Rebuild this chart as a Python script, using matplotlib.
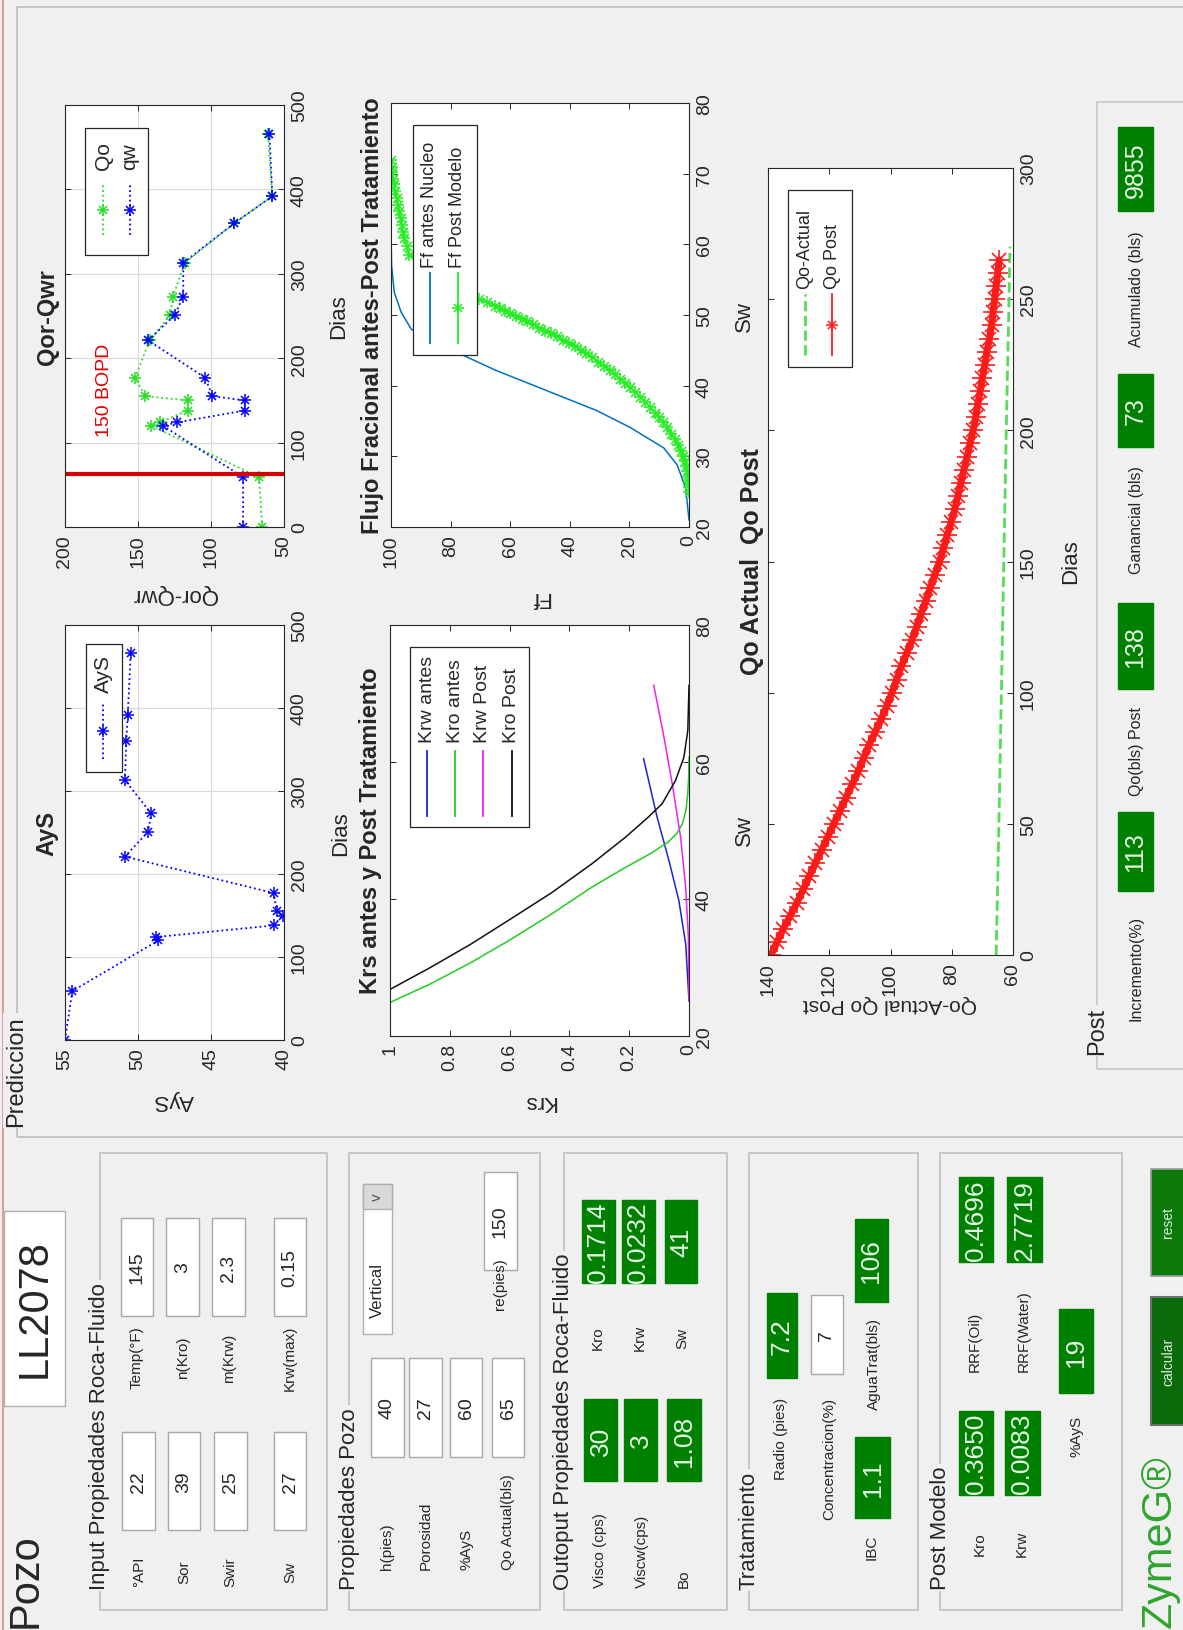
import matplotlib
matplotlib.use('Agg')
import matplotlib.pyplot as plt
from matplotlib.patches import Rectangle
from matplotlib.lines import Line2D

plt.rcParams['font.family'] = ['Liberation Sans', 'DejaVu Sans']

W, H = 1183, 1631

# ---------------- datos ----------------
# fechas de las pruebas (comunes a AyS y Qor-Qwr)
prueba_dias = [0, 59, 120, 124, 138, 150, 155, 177, 221, 251, 273, 313, 360, 392, 466]
ays_val = [55.0, 54.5, 48.6, 48.8, 40.7, 40.1, 40.5, 40.7, 50.9, 49.3, 49.1, 50.9, 50.8, 50.7, 50.5]
qo_val = [65, 67, 141, 135, 116, 116, 145, 152, 142, 128, 126, 118, 84, 58, 61]
qw_val = [78, 78, 133, 123, 77, 77, 99, 104, 143, 125, 119, 119, 84, 58, 60]
bopd_dia = 63

# Krs vs Sw
sw_krw_antes = [25.1, 33.4, 39.8, 45.6, 52.0, 60.5]
krw_antes = [0.0, 0.011, 0.034, 0.067, 0.107, 0.152]
sw_kro_antes = [24.9, 27.6, 30.7, 34.1, 37.8, 41.7, 44.6, 46.6, 48.3, 49.6, 51.0, 53.0, 55.5, 58.0, 60.7]
kro_antes = [1.0, 0.865, 0.73, 0.596, 0.46, 0.326, 0.213, 0.13, 0.07, 0.04, 0.022, 0.01, 0.004, 0.001, 0.0]
sw_krw_post = [25.1, 34.4, 41.7, 49.0, 56.8, 63.7, 71.2]
krw_post = [0.0, 0.002, 0.011, 0.028, 0.056, 0.084, 0.118]
sw_kro_post = [26.8, 30.0, 33.4, 37.1, 40.9, 45.1, 49.0, 52.0, 53.9, 57.3, 60.7, 64.6, 71.2]
kro_post = [1.0, 0.865, 0.73, 0.596, 0.46, 0.326, 0.213, 0.135, 0.09, 0.045, 0.017, 0.004, 0.0]

# Flujo fraccional vs Sw
sw_ff_antes = [21.0, 25.5, 28.8, 31.2, 34.1, 36.5, 38.4, 40.3, 42.2, 44.4, 46.5, 48.0, 50.4, 53.2, 57.0, 61.6]
ff_antes = [0.0, 1.1, 4.0, 8.5, 19.8, 31.1, 42.4, 53.7, 65.0, 76.3, 87.6, 93.2, 96.6, 98.9, 99.8, 100.0]
sw_ff_post = [25.0, 25.7, 26.4, 27.1, 27.9, 28.6, 29.3, 30.0, 30.8, 31.6, 32.4, 33.2, 34.1, 34.8,
              35.5, 36.2, 37.0, 37.7, 38.4, 39.1, 39.8, 40.4, 41.0, 41.6, 42.2, 42.8, 43.4, 44.0,
              44.6, 45.1, 45.6, 46.1, 46.5, 47.0, 47.4, 47.8, 48.2, 48.7, 49.1, 49.5, 49.9, 50.3,
              50.6, 51.0, 51.3, 51.8, 52.3, 58.5, 59.7, 60.9, 61.8, 62.8, 63.7, 64.7, 65.6, 66.6,
              67.5, 68.5, 69.3, 70.2, 71.0, 71.9]
ff_post = [0.0, 0.1, 0.2, 0.4, 0.6, 1.0, 1.5, 2.1, 2.8, 3.7, 4.8, 6.0, 7.3, 8.6,
           10.0, 11.5, 13.0, 14.6, 16.3, 18.0, 19.8, 21.5, 23.2, 24.9, 26.6, 28.5, 30.5, 32.5,
           34.5, 36.4, 38.4, 40.4, 42.4, 44.3, 46.3, 48.3, 50.3, 52.2, 54.2, 56.2, 58.2, 59.9,
           61.6, 63.3, 65.0, 67.8, 70.6, 93.8, 94.7, 95.5, 96.0, 96.4, 96.8, 97.2, 97.7, 98.1,
           98.5, 98.9, 99.2, 99.5, 99.8, 100.0]

# Qo actual / Qo post vs Dias
qo_post_dias = [0, 5, 10, 15, 20, 25, 30, 35, 40, 45, 50, 55, 60, 65, 70, 75, 80, 85, 90, 95,
                100, 105, 110, 115, 120, 125, 130, 135, 140, 145, 150, 155, 160, 165, 170, 175,
                180, 185, 190, 195, 200, 205, 210, 215, 220, 225, 230, 235, 240, 245, 250, 255,
                260, 265]
qo_post = [139, 137, 135, 132.7, 130.5, 128.5, 126.5, 124.5, 122.5, 120.5, 118.5, 116.5, 114.5,
           112.5, 110.5, 108.8, 107, 105, 103, 101.2, 99.5, 98, 96.5, 94.7, 93, 91.5, 90, 88.5,
           87, 85.5, 84, 82.7, 81.5, 80.2, 79, 78, 77, 76, 75, 74, 73, 72.2, 71.5, 70.7, 70,
           69.2, 68.5, 67.7, 67, 66.5, 66, 65.5, 65, 64.5]
qo_act_dias = [0, 50, 100, 150, 200, 250, 270]
qo_act = [65.5, 64.6, 63.8, 63.0, 62.2, 61.3, 61.0]

# ---------------- figura ----------------
fig = plt.figure(figsize=(W / 100, H / 100), dpi=100)
fig.patch.set_facecolor('#f0f0f0')
TXT = '#262626'
VERDE = '#008000'
T_TIT, T_LAB, T_TICK = 17, 16, 14


def fx(x):
    return x / W


def fy(y):
    return 1 - y / H


def caja(x0, y0, x1, y1, fc='none', ec='#b4b4b4', lw=1.0, z=0.5):
    fig.add_artist(Rectangle((fx(x0), fy(y1)), (x1 - x0) / W, (y1 - y0) / H,
                             transform=fig.transFigure, facecolor=fc,
                             edgecolor=ec, lw=lw, zorder=z))


def texto(x, y, s, size=11, color=TXT, weight='normal', rot=90, ha='center',
          va='center', bg=None, z=6):
    kw = {}
    if bg:
        kw['bbox'] = dict(facecolor=bg, edgecolor='none', pad=1.5)
    fig.text(fx(x), fy(y), s, fontsize=size, color=color, fontweight=weight,
             rotation=rot, ha=ha, va=va, zorder=z, **kw)


def linea(xs, ys, color, lw=1.0, ls='-', z=5):
    fig.add_artist(Line2D([fx(v) for v in xs], [fy(v) for v in ys],
                          transform=fig.transFigure, color=color, lw=lw, ls=ls, zorder=z))


def estrella_fig(x, y, color, ms=8):
    for mk, s in (('+', ms), ('x', ms * 0.72)):
        fig.add_artist(Line2D([fx(x)], [fy(y)], transform=fig.transFigure, ls='none',
                              marker=mk, ms=s, mew=1.1, color=color, zorder=6))


def campo(x0, y0, x1, y1, s, verde=True, size=19):
    if verde:
        caja(x0, y0, x1, y1, fc=VERDE, ec=VERDE, z=1)
        texto((x0 + x1) / 2, (y0 + y1) / 2, s, size=size, color='#e3f7e3')
    else:
        caja(x0, y0, x1, y1, fc='white', ec='#a8a8a8', z=1)
        texto((x0 + x1) / 2, (y0 + y1) / 2, s, size=14)


def asterisco(ax, h, v, color, ms=8, lw=1.1):
    ax.plot(h, v, ls='none', marker='+', ms=ms, mew=lw, color=color)
    ax.plot(h, v, ls='none', marker='x', ms=ms * 0.72, mew=lw, color=color)


def eje(box, hlim, vlim, hticks, vticks, hlab=None, vlab=None, grid=False):
    x0, y0, x1, y1 = box
    ax = fig.add_axes([x0 / W, 1 - y1 / H, (x1 - x0) / W, (y1 - y0) / H])
    ax.set_xlim(hlim)
    ax.set_ylim(vlim)
    ax.set_xticks(hticks, labels=hlab)
    ax.set_yticks(vticks, labels=vlab)
    ax.yaxis.tick_right()
    ax.tick_params(direction='in', length=4, width=0.7, colors=TXT, labelsize=T_TICK,
                   top=True, bottom=True, left=True, right=True, labelrotation=90, pad=5)
    for t in ax.get_yticklabels():
        t.set_verticalalignment('center')
    for sp in ax.spines.values():
        sp.set_color(TXT)
        sp.set_linewidth(0.8)
    if grid:
        ax.grid(True, color='#dadada', lw=0.8)
        ax.set_axisbelow(True)
    return ax


def leyenda(box, items, tb, s0, s1, size=12):
    # items: (x, texto, color, estilo, estrella)
    caja(*box, fc='white', ec=TXT, lw=0.9, z=4)
    for x, lab, col, ls, star in items:
        linea([x, x], [s1, s0], col, lw=1.3 if ls != '--' else 2.0, ls=ls)
        if star:
            estrella_fig(x, (s0 + s1) / 2, col)
        texto(x, tb, lab, size=size, va='bottom', z=6)


# ---------------- marcos de la GUI ----------------
linea([3, 3], [0, H], '#e08a8a', lw=1.2, z=1)
caja(17, 8, 1195, 1138, ec='#bdbdbd', lw=1.2)
texto(16, 1127, 'Prediccion', size=17, va='bottom', bg='#f0f0f0')

texto(26, 1628, 'Pozo', size=30, va='bottom')
caja(4, 1212, 65, 1407, fc='white', ec='#b0b0b0', z=1)
texto(35, 1309, 'LL2078', size=30)

paneles = [(100, 327, 'Input Propiedades Roca-Fluido'),
           (349, 540, 'Propiedades Pozo'),
           (564, 727, 'Outoput Propiedades Roca-Fluido'),
           (749, 918, 'Tratamiento'),
           (940, 1122, 'Post Modelo')]
for x0, x1, tit in paneles:
    caja(x0, 1154, x1, 1611, ec='#bdbdbd', lw=1.1)
    texto(x0, 1590, tit, size=16, va='bottom', bg='#f0f0f0')

# Input Propiedades Roca-Fluido
for xc, lab in zip([139, 184, 230, 290], ['°API', 'Sor', 'Swir', 'Sw']):
    texto(xc, 1572, lab, size=11)
for (x0, x1), v in zip([(122, 155), (168, 200), (214, 247), (274, 306)], ['22', '39', '25', '27']):
    campo(x0, 1433, x1, 1531, v, verde=False)
for xc, lab in zip([137, 183, 229, 290], ['Temp(°F)', 'n(Kro)', 'm(Krw)', 'Krw(max)']):
    texto(xc, 1358, lab, size=11)
for (x0, x1), v in zip([(121, 153), (166, 199), (212, 245), (274, 306)], ['145', '3', '2.3', '0.15']):
    campo(x0, 1219, x1, 1317, v, verde=False)

# Propiedades Pozo
for xc, lab in zip([387, 426, 466, 508], ['h(pies)', 'Porosidad', '%AyS', 'Qo Actual(bls)']):
    texto(xc, 1570, lab, size=11, va='bottom')
for (x0, x1), v in zip([(371, 404), (409, 442), (450, 482), (492, 524)], ['40', '27', '60', '65']):
    campo(x0, 1359, x1, 1458, v, verde=False)
caja(363, 1185, 392, 1335, fc='white', ec='#b0b0b0', z=1)
caja(363, 1185, 392, 1210, fc='#d9d9d9', ec='#b0b0b0', z=1.1)
texto(377, 1197, 'v', size=11, color='#555555')
texto(377, 1318, 'Vertical', size=12, va='bottom')
texto(500, 1284, 're(pies)', size=11)
campo(484, 1173, 517, 1271, '150', verde=False)

# Outoput Propiedades Roca-Fluido
for xc, lab in zip([600, 642, 684], ['Visco (cps)', 'Viscw(cps)', 'Bo']):
    texto(xc, 1588, lab, size=11, va='bottom')
for (x0, x1), v in zip([(584, 617), (624, 657), (667, 701)], ['30', '3', '1.08']):
    campo(x0, 1400, x1, 1482, v)
for xc, lab in zip([598, 640, 682], ['Kro', 'Krw', 'Sw']):
    texto(xc, 1338, lab, size=11)
for (x0, x1), v in zip([(582, 615), (622, 655), (665, 697)], ['0.1714', '0.0232', '41']):
    campo(x0, 1201, x1, 1284, v)

# Tratamiento
texto(781, 1398, 'Radio (pies)', size=11, va='top')
campo(767, 1294, 797, 1379, '7.2')
texto(829, 1398, 'Concentracion(%)', size=11, va='top')
campo(811, 1296, 843, 1375, '7', verde=False)
texto(872, 1547, 'IBC', size=11)
campo(855, 1438, 890, 1519, '1.1')
texto(874, 1364, 'AguaTrat(bls)', size=11)
campo(855, 1220, 888, 1303, '106')

# Post Modelo
texto(980, 1544, 'Kro', size=11)
campo(959, 1412, 993, 1496, '0.3650')
texto(1022, 1544, 'Krw', size=11)
campo(1005, 1412, 1040, 1496, '0.0083')
texto(975, 1372, 'RRF(Oil)', size=11, va='bottom')
campo(959, 1178, 993, 1263, '0.4696')
texto(1024, 1372, 'RRF(Water)', size=11, va='bottom')
campo(1007, 1178, 1042, 1263, '2.7719')
texto(1076, 1436, '%AyS', size=11)
campo(1059, 1310, 1093, 1394, '19')

# botones y marca
texto(1160, 1628, 'ZymeG®', size=31, color='#2ea52e', va='bottom')
caja(1151, 1298, 1192, 1426, fc='#0b6b0b', ec='#6f6f6f', lw=1.5, z=1)
texto(1168, 1362, 'calcular', size=10, color='#dff2df')
caja(1151, 1170, 1192, 1277, fc='#0b7a0b', ec='#9a9a9a', lw=1.2, z=1)
texto(1168, 1223, 'reset', size=10, color='#dff2df')

# Post
caja(1097, 103, 1195, 1070, ec='#c4c4c4', lw=1.1)
texto(1097, 1055, 'Post', size=17, va='bottom', bg='#f0f0f0')
post_items = [('Incremento(%)', 968, (813, 892), '113'),
              ('Qo(bls) Post', 752, (604, 690), '138'),
              ('Ganancial (bls)', 520, (375, 448), '73'),
              ('Acumulado (bls)', 289, (128, 212), '9855')]
for lab, yl, (b0, b1), v in post_items:
    texto(1136, yl, lab, size=11.5)
    campo(1118, b0, 1153, b1, v, size=18)

# ---------------- AyS ----------------
box = (65, 626, 284, 1041)
ax = eje(box, (55, 40), (0, 500), [40, 45, 50, 55], [0, 100, 200, 300, 400, 500], grid=True)
ax.plot(ays_val, prueba_dias, ls=':', color='blue', lw=1.3)
asterisco(ax, ays_val, prueba_dias, 'blue')
texto(47, 834, 'AyS', size=T_TIT, weight='bold')
texto(341, 834, 'Dias', size=T_LAB)
texto(174, 1101, 'AyS', size=T_LAB, rot=180)
leyenda((86, 645, 122, 773), [(103, 'AyS', 'blue', ':', True)], 693, 703, 760, size=15)

# ---------------- Qor-Qwr ----------------
box = (65, 106, 284, 528)
ax = eje(box, (200, 50), (0, 500), [50, 100, 150, 200], [0, 100, 200, 300, 400, 500], grid=True)
ax.plot(qo_val, prueba_dias, ls=':', color='#22dd22', lw=1.3)
asterisco(ax, qo_val, prueba_dias, '#22dd22')
ax.plot(qw_val, prueba_dias, ls=':', color='blue', lw=1.3)
asterisco(ax, qw_val, prueba_dias, 'blue')
ax.axhline(bopd_dia, color='#d40000', lw=3)
ax.text(173, 108, '150 BOPD', rotation=90, ha='center', va='bottom', color='#e00000', fontsize=14)
texto(47, 317, 'Qor-Qwr', size=T_TIT, weight='bold')
texto(339, 317, 'Dias', size=T_LAB)
texto(175, 594, 'Qor-Qwr', size=T_LAB, rot=180)
leyenda((85, 129, 148, 256), [(103, 'Qo', '#22dd22', ':', True),
                             (130, 'qw', 'blue', ':', True)], 170, 186, 236, size=15)

# ---------------- Krs ----------------
box = (390, 626, 689, 1037)
ax = eje(box, (1, 0), (20, 80), [0, 0.2, 0.4, 0.6, 0.8, 1], [20, 40, 60, 80],
         hlab=['0', '0.2', '0.4', '0.6', '0.8', '1'])
ax.plot(krw_antes, sw_krw_antes, color='#2020d0', lw=1.1)
ax.plot(kro_antes, sw_kro_antes, color='#22cc22', lw=1.1)
ax.plot(krw_post, sw_krw_post, color='#ee22ee', lw=1.1)
ax.plot(kro_post, sw_kro_post, color='#111111', lw=1.1)
texto(370, 831, 'Krs antes y Post Tratamiento', size=T_TIT, weight='bold')
texto(744, 831, 'Sw', size=T_LAB)
texto(539, 1101, 'Krs', size=T_LAB, rot=180)
leyenda((410, 648, 529, 828), [(427, 'Krw antes', '#2020d0', '-', False),
                              (455, 'Kro antes', '#22cc22', '-', False),
                              (483, 'Krw Post', '#ee22ee', '-', False),
                              (512, 'Kro Post', '#111111', '-', False)], 743, 752, 817, size=14)

# ---------------- Flujo fraccional ----------------
box = (391, 104, 689, 528)
ax = eje(box, (100, 0), (20, 80), [0, 20, 40, 60, 80, 100], [20, 30, 40, 50, 60, 70, 80])
ax.plot(ff_antes, sw_ff_antes, color='#0072bd', lw=1.1)
ax.plot(ff_post, sw_ff_post, color='#22ee22', lw=1.1)
asterisco(ax, ff_post, sw_ff_post, '#22ee22', ms=9)
texto(372, 316, 'Flujo Fracional antes-Post Tratamiento', size=T_TIT, weight='bold')
texto(744, 316, 'Sw', size=T_LAB)
texto(540, 598, 'Ff', size=T_LAB, rot=180)
leyenda((413, 126, 477, 356), [(430, 'Ff antes Nucleo', '#0072bd', '-', False),
                              (458, 'Ff Post Modelo', '#22ee22', '-', True)], 268, 274, 344, size=13)

# ---------------- Qo actual / Qo post ----------------
box = (768, 169, 1013, 956)
ax = eje(box, (140, 60), (0, 300), [60, 80, 100, 120, 140], [0, 50, 100, 150, 200, 250, 300])
ax.plot(qo_act, qo_act_dias, ls='--', color='#55dd55', lw=2)
ax.plot(qo_post, qo_post_dias, color='#ff1a1a', lw=5, solid_capstyle='round')
asterisco(ax, qo_post, qo_post_dias, '#ff1a1a', ms=14, lw=1.2)
texto(752, 562, 'Qo Actual  Qo Post', size=18, weight='bold')
texto(1071, 562, 'Dias', size=T_LAB)
texto(890, 1005, 'Qo-Actual Qo Post', size=15, rot=180)
leyenda((788, 191, 852, 368), [(805, 'Qo-Actual', '#55dd55', '--', False),
                              (832, 'Qo Post', '#ff1a1a', '-', True)], 289, 295, 356, size=13)

fig.savefig('out.png', dpi=100, facecolor=fig.get_facecolor())
